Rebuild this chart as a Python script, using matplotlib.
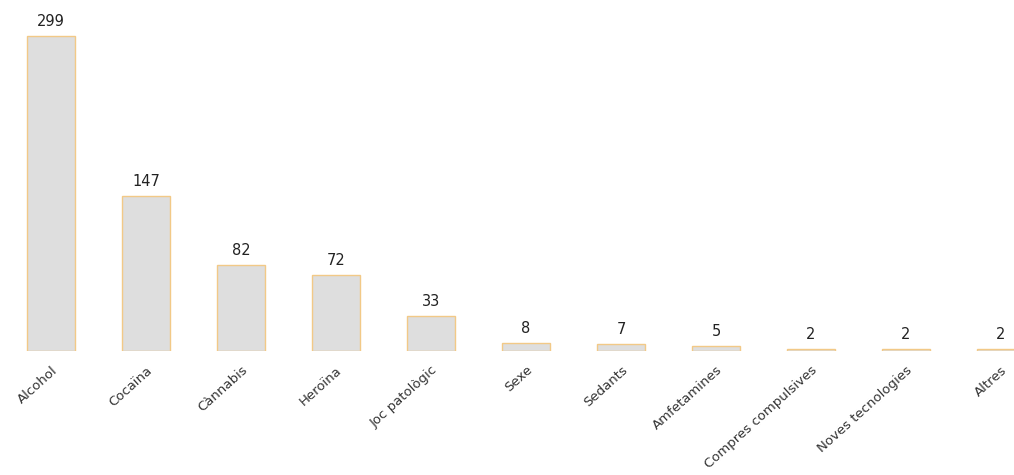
import numpy as np
import matplotlib.pyplot as plt

categories = ["Alcohol", "Cocaïna", "Cànnabis", "Heroïna", "Joc patològic", "Sexe",
              "Sedants", "Amfetamines", "Compres compulsives", "Noves tecnologies", "Altres"]
values = [299, 147, 82, 72, 33, 8, 7, 5, 2, 2, 2]

fig = plt.figure(figsize=(10.14, 4.75), dpi=100)
ax = fig.add_axes([0, 0.261, 1, 0.739])

x = np.arange(len(categories))
bars = ax.bar(x, values, width=0.505, color="#dedede", edgecolor="#f2c987", linewidth=1)

for xi, v in zip(x, values):
    ax.annotate(str(v), (xi, v), xytext=(0, 5), textcoords="offset points",
                ha="center", va="bottom", fontsize=10.5, color="#222222")

ax.set_xlim(-0.537, 10.137)
ax.set_ylim(0, 333.2)
ax.set_xticks(x)
ax.set_xticklabels(categories, rotation=42, ha="right", rotation_mode="anchor",
                   fontsize=9.5, color="#333333")
ax.tick_params(axis="x", length=0, pad=9)
ax.set_yticks([])
for s in ax.spines.values():
    s.set_visible(False)

fig.savefig("out.png", dpi=100)
